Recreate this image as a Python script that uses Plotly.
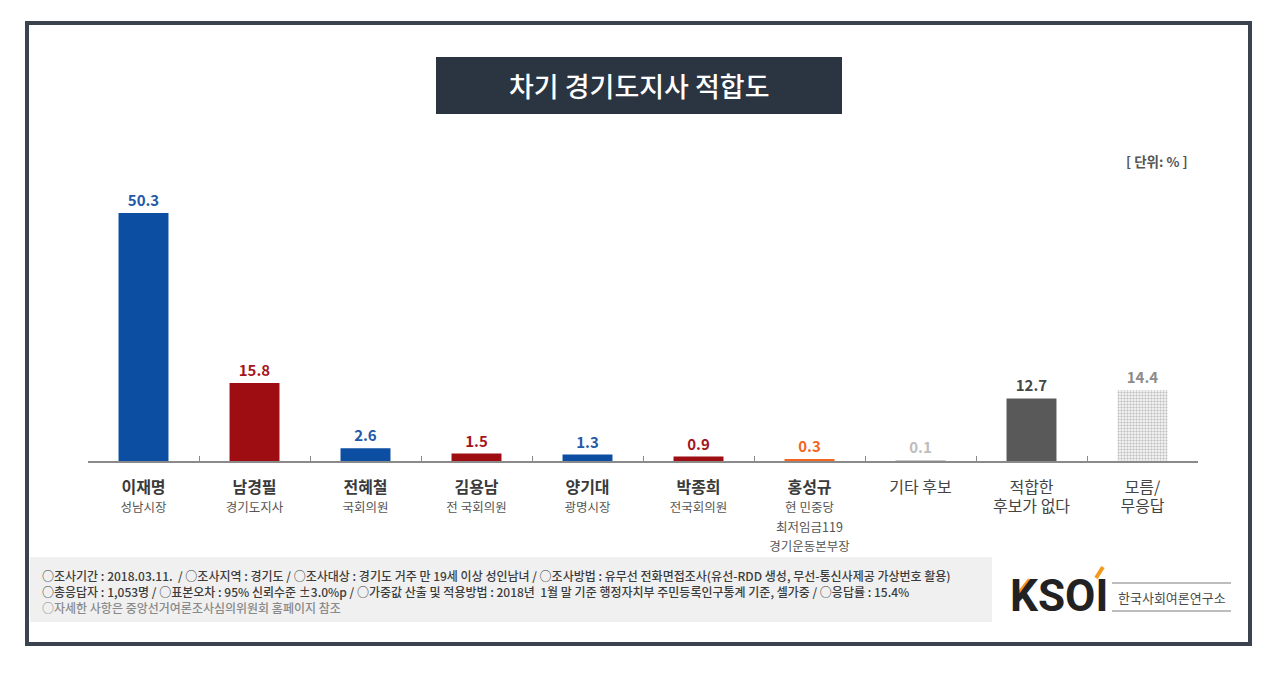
import plotly.graph_objects as go

# ---------------- data ----------------
names = ["이재명", "남경필", "전혜철", "김용남", "양기대", "박종희", "홍성규", "기타 후보", "적합한", "모름/"]
subtitles = [["성남시장"], ["경기도지사"], ["국회의원"], ["전 국회의원"], ["광명시장"], ["전국회의원"],
             ["현 민중당", "최저임금119", "경기운동본부장"], [], ["후보가 없다"], ["무응답"]]
name_bold = [True, True, True, True, True, True, True, False, False, False]
values = [50.3, 15.8, 2.6, 1.5, 1.3, 0.9, 0.3, 0.1, 12.7, 14.4]
value_text = ["50.3", "15.8", "2.6", "1.5", "1.3", "0.9", "0.3", "0.1", "12.7", "14.4"]

# ---------------- styles ----------------
BLUE, RED, ORANGE = "#0b4ea2", "#9e0d12", "#f26522"
bar_colors = [BLUE, RED, BLUE, RED, BLUE, RED, ORANGE, "#c8c8c8", "#595959", "#c4c4c4"]
label_colors = ["#2458a8", "#a3161b", "#2458a8", "#a3161b", "#2458a8", "#a3161b", ORANGE, "#bdbdbd", "#474747", "#8c8c8c"]
pattern_shapes = ["", "", "", "", "", "", "", "", "", "."]
FONT = "Noto Sans CJK KR"

W, H = 1279, 677
L, R, T, B = 88, 1198, 160, 461
def px(x):
    return (x - L) / (R - L)
def py(y):
    return (B - y) / (B - T)

def make_label(name, subs, bold):
    if bold:
        first = f"<b><span style='font-size:16px;color:#3a3a3a'>{name}</span></b>"
        rest = [f"<span style='font-size:12.5px;color:#555555'>{s}</span>" for s in subs]
    else:
        first = f"<span style='font-size:16px;color:#444444'>{name}</span>"
        rest = [f"<span style='font-size:16px;color:#444444'>{s}</span>" for s in subs]
    return "<br>".join([first] + rest)

labels = [make_label(n, s, b) for n, s, b in zip(names, subtitles, name_bold)]

fig = go.Figure()
fig.add_trace(go.Bar(
    x=labels, y=values, width=0.45,
    marker=dict(color=bar_colors, line=dict(width=0),
                pattern=dict(shape=pattern_shapes, fgcolor="#8c8c8c", bgcolor="#d4d4d4",
                             size=3, solidity=0.5, fillmode="replace")),
    text=[f"<b>{t}</b>" for t in value_text], textposition="outside",
    textfont=dict(family=FONT, size=15, color=label_colors),
    cliponaxis=False, hoverinfo="skip",
))

fig.update_layout(
    width=W, height=H,
    margin=dict(l=L, r=W - R, t=T, b=H - B, pad=0),
    paper_bgcolor="white", plot_bgcolor="white",
    showlegend=False, bargap=0.55,
    font=dict(family=FONT),
    xaxis=dict(type="category", tickson="boundaries", ticks="inside", ticklen=5,
               tickcolor="#8a8a8a", tickwidth=1.2, showline=True, linecolor="#8a8a8a",
               linewidth=1.5, showgrid=False, tickfont=dict(family=FONT, size=15, color="#444444"),
               ticklabelstandoff=12, fixedrange=True),
    yaxis=dict(range=[0, (B - T) / 4.93], visible=False, fixedrange=True),
)

shapes = []
# outer frame
shapes.append(dict(type="rect", xref="paper", yref="paper", x0=px(27), x1=px(1250), y0=py(644), y1=py(23),
                   line=dict(color="#3b434f", width=4), fillcolor="rgba(0,0,0,0)", layer="below"))
# title box
shapes.append(dict(type="rect", xref="paper", yref="paper", x0=px(436), x1=px(842), y0=py(114), y1=py(57),
                   line=dict(width=0), fillcolor="#2b3441", layer="below"))
# footer box
shapes.append(dict(type="rect", xref="paper", yref="paper", x0=px(30), x1=px(992), y0=py(622), y1=py(557),
                   line=dict(width=0), fillcolor="#f0f0f0", layer="below"))
# logo lines
for yy in (583, 611):
    shapes.append(dict(type="line", xref="paper", yref="paper", x0=px(1112), x1=px(1231), y0=py(yy), y1=py(yy),
                       line=dict(color="#bdbdbd", width=2)))
# logo orange accents
shapes.append(dict(type="line", xref="paper", yref="paper", x0=px(1019), x1=px(1030), y0=py(594), y1=py(580),
                   line=dict(color="#f39a1e", width=5)))
shapes.append(dict(type="line", xref="paper", yref="paper", x0=px(1096), x1=px(1103), y0=py(578), y1=py(567),
                   line=dict(color="#f39a1e", width=4)))
fig.update_layout(shapes=shapes)

ann = []
ann.append(dict(text="차기 경기도지사 적합도", x=px(639), y=py(86), xref="paper", yref="paper",
                xanchor="center", yanchor="middle",
                showarrow=False, font=dict(family=FONT, size=27, color="white", weight=500)))
ann.append(dict(text="<b>[ 단위: % ]</b>", x=px(1190), y=py(161), xref="paper", yref="paper",
                xanchor="right", yanchor="middle", showarrow=False,
                font=dict(family=FONT, size=13.5, color="#555555")))
footer = [
    ("○조사기간 : 2018.03.11.  / ○조사지역 : 경기도 / ○조사대상 : 경기도 거주 만 19세 이상 성인남녀 / ○조사방법 : 유무선 전화면접조사(유선-RDD 생성, 무선-통신사제공 가상번호 활용)", 575, "#3c3c3c"),
    ("○총응답자 : 1,053명 / ○표본오차 : 95% 신뢰수준 ±3.0%p / ○가중값 산출 및 적용방법 : 2018년  1월 말 기준 행정자치부 주민등록인구통계 기준, 셀가중 / ○응답률 : 15.4%", 591, "#3c3c3c"),
    ("○자세한 사항은 중앙선거여론조사심의위원회 홈페이지 참조", 607, "#8a8a8a"),
]
for txt, yy, col in footer:
    ann.append(dict(text=txt, x=px(40), y=py(yy), xref="paper", yref="paper",
                    xanchor="left", yanchor="middle",
                    showarrow=False, font=dict(family=FONT, size=12, color=col, weight=500)))
ann.append(dict(text="<b>KSOI</b>", x=px(1008), y=py(596), xref="paper", yref="paper",
                xanchor="left", yanchor="middle",
                showarrow=False, font=dict(family="Roboto", size=44, color="#222222")))
ann.append(dict(text="한국사회여론연구소", x=px(1172), y=py(597), xref="paper", yref="paper",
                xanchor="center", yanchor="middle",
                showarrow=False, font=dict(family=FONT, size=13, color="#4a4a4a")))
fig.update_layout(annotations=ann)

fig.write_html("out.html")
